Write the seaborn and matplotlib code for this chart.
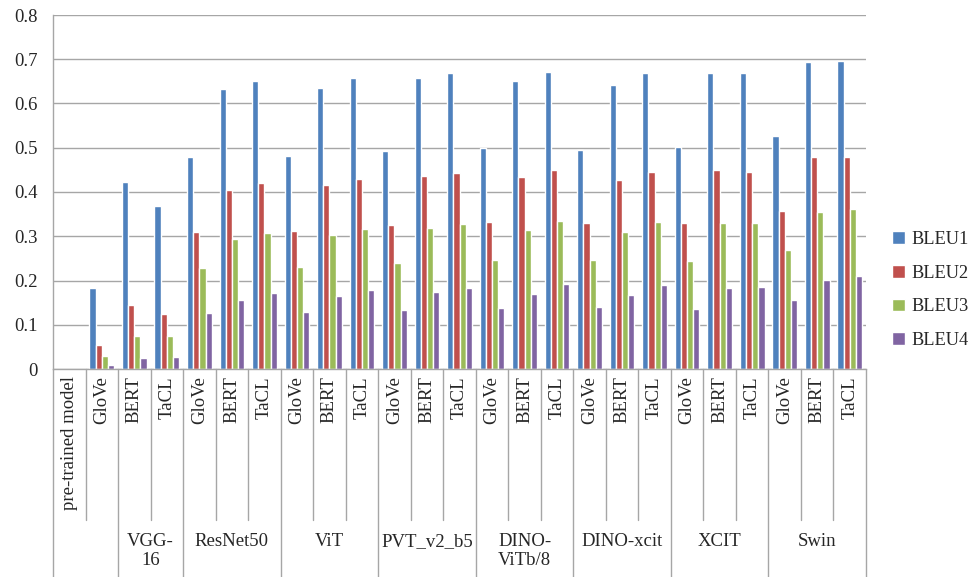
import numpy as np
import pandas as pd
import matplotlib
matplotlib.use("Agg")
import matplotlib.pyplot as plt
import matplotlib.transforms as mtransforms
import seaborn as sns

# category slots along the x axis (first slot is only a header label, no bars)
slot_labels = ["pre-trained model", "GloVe",
               "BERT", "TaCL",
               "GloVe", "BERT", "TaCL",
               "GloVe", "BERT", "TaCL",
               "GloVe", "BERT", "TaCL",
               "GloVe", "BERT", "TaCL",
               "GloVe", "BERT", "TaCL",
               "GloVe", "BERT", "TaCL",
               "GloVe", "BERT", "TaCL"]
group_labels = ["", "VGG-\n16", "ResNet50", "ViT", "PVT_v2_b5",
                "DINO-\nViTb/8", "DINO-xcit", "XCIT", "Swin"]
group_sizes = [2, 2, 3, 3, 3, 3, 3, 3, 3]

series_names = ["BLEU1", "BLEU2", "BLEU3", "BLEU4"]
bleu1 = [np.nan, 0.182, 0.422, 0.369, 0.478, 0.632, 0.650, 0.481, 0.636, 0.657,
         0.492, 0.657, 0.669, 0.500, 0.651, 0.672, 0.496, 0.642, 0.669,
         0.502, 0.670, 0.670, 0.527, 0.694, 0.697]
bleu2 = [np.nan, 0.054, 0.144, 0.124, 0.309, 0.405, 0.420, 0.311, 0.415, 0.429,
         0.325, 0.437, 0.443, 0.332, 0.434, 0.450, 0.330, 0.426, 0.446,
         0.330, 0.450, 0.445, 0.358, 0.480, 0.480]
bleu3 = [np.nan, 0.029, 0.074, 0.074, 0.228, 0.293, 0.308, 0.231, 0.303, 0.317,
         0.240, 0.318, 0.327, 0.247, 0.314, 0.335, 0.247, 0.310, 0.333,
         0.245, 0.330, 0.330, 0.269, 0.355, 0.362]
bleu4 = [np.nan, 0.009, 0.024, 0.026, 0.126, 0.155, 0.172, 0.128, 0.165, 0.179,
         0.133, 0.175, 0.183, 0.137, 0.170, 0.192, 0.141, 0.168, 0.189,
         0.136, 0.182, 0.185, 0.156, 0.201, 0.210]
colors = ["#4F81BD", "#C0504D", "#9BBB59", "#8064A2"]

sns.set_style("white")
plt.rcParams['font.family'] = ['Liberation Serif', 'DejaVu Serif']
plt.rcParams['font.size'] = 13.5

slots = [str(i) for i in range(len(slot_labels))]
rows = []
for name, vals in zip(series_names, [bleu1, bleu2, bleu3, bleu4]):
    for s, v in zip(slots, vals):
        rows.append({'slot': s, 'Series': name, 'Score': v})
df = pd.DataFrame(rows).dropna()

fig = plt.figure(figsize=(9.72, 5.77), dpi=100)
ax = fig.add_axes([53 / 972, (577 - 369) / 577, (866 - 53) / 972, 354 / 577])

sns.barplot(data=df, x='slot', y='Score', hue='Series', order=slots,
            hue_order=series_names, palette=colors, width=0.76,
            saturation=1, errorbar=None, ax=ax, legend=True)

grid_c = "#A6A6A6"
ax.set_ylim(0, 0.8)
ax.set_xlim(-0.5, len(slots) - 0.5)
ax.set_yticks(np.arange(0, 0.81, 0.1))
ax.set_yticklabels([f"{v:g}" for v in np.arange(0, 0.81, 0.1).round(1)])
ax.yaxis.grid(True, color=grid_c, linewidth=1.0)
ax.set_axisbelow(True)
ax.tick_params(axis='y', length=5, color=grid_c, width=1.0, pad=6)
ax.set_xticks([])
ax.set_xlabel("")
ax.set_ylabel("")
for side in ['top', 'right']:
    ax.spines[side].set_visible(False)
for side in ['left', 'bottom']:
    ax.spines[side].set_color(grid_c)
    ax.spines[side].set_linewidth(1.0)

# multi-level category axis below the plot
trans = mtransforms.blended_transform_factory(ax.transData, ax.transAxes)
for i, lab in enumerate(slot_labels):
    ax.text(i, -0.02, lab, rotation=90, ha='center', va='top',
            transform=trans, clip_on=False)

short_y = -(520 - 369) / 354
long_y = -(600 - 369) / 354
start = 0
edges = [-0.5]
for g, n in zip(group_labels, group_sizes):
    for k in range(1, n):
        ax.plot([start + k - 0.5] * 2, [0, short_y], color=grid_c, lw=1.0,
                transform=trans, clip_on=False)
    centre = start + (n - 1) / 2
    ax.text(centre, -(533 - 369) / 354, g, ha='center', va='top',
            linespacing=1.15, transform=trans, clip_on=False)
    start += n
    edges.append(start - 0.5)
for e in edges:
    ax.plot([e, e], [0, long_y], color=grid_c, lw=1.0,
            transform=trans, clip_on=False)

ax.legend(loc='center left', bbox_to_anchor=(892 / 972, (577 - 290) / 577),
          bbox_transform=fig.transFigure, frameon=False, title=None,
          borderaxespad=0, borderpad=0,
          handlelength=0.7, handleheight=0.7, handletextpad=0.35,
          labelspacing=0.92, fontsize=13.2)

fig.savefig("out.png", dpi=100)
